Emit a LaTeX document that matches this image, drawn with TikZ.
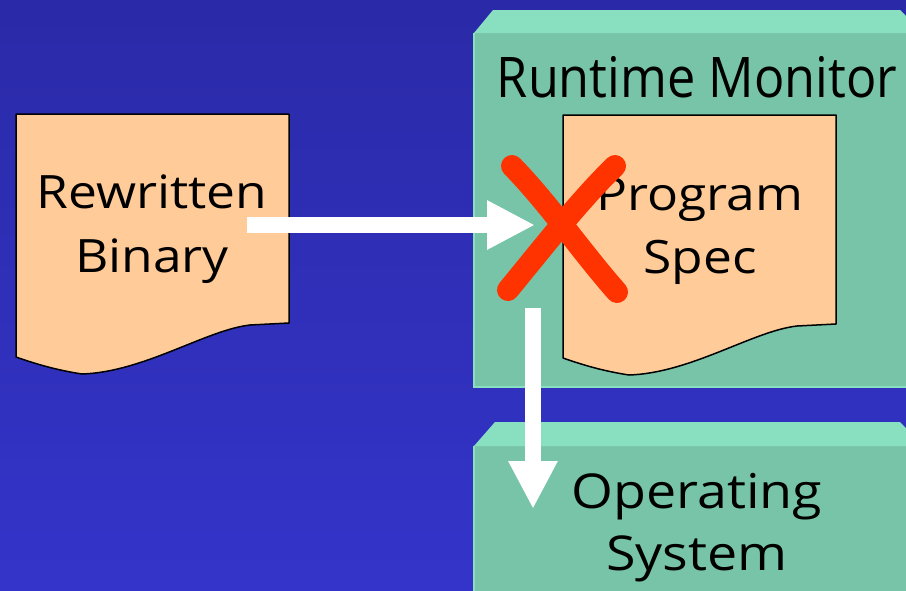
\documentclass[tikz,border=0pt]{standalone}
\usepackage{fontspec}
\setmainfont{Open Sans}[FakeStretch=1.12]
\newfontfamily\titlefont{Open Sans}[FakeStretch=0.9]
\usetikzlibrary{arrows.meta}
\definecolor{bgtop}{HTML}{2A2AA8}
\definecolor{bgbot}{HTML}{3434CA}
\definecolor{paper}{HTML}{FFCC99}
\definecolor{tealfront}{HTML}{78C4A9}
\definecolor{tealtop}{HTML}{88E0C0}
\definecolor{crossred}{HTML}{FF3300}
\tikzset{
  docshape/.style={fill=paper, draw=black, line width=1.5pt, line join=round},
  boxfront/.style={fill=tealfront},
  boxtop/.style={fill=tealtop},
  boxrim/.style={draw=tealtop, line width=1.5pt},
  label/.style={inner sep=0pt, align=center, anchor=base, text=black},
  flow/.style={draw=white, line width=16pt,
    -{Triangle[length=48pt, width=46pt, fill=white]}, shorten >=0pt},
  crossline/.style={draw=crossred, line width=22pt, line cap=round},
}
% a document sheet with a wavy lower edge, top-left corner at #1
\newcommand{\docsheet}[1]{%
  \begin{scope}[shift={#1}]
    \path[docshape] (0,0) -- (273,0) -- (273,209) -- (234,211)
      .. controls (190,216) and (128,258) .. (66,260)
      .. controls (40,256) and (20,250) .. (0,243) -- cycle;
  \end{scope}}
\begin{document}
\begin{tikzpicture}[x=1pt, y=-1pt]
  \useasboundingbox (0,0) rectangle (906,590);
  \clip (0,0) rectangle (906,590);
  \shade[top color=bgtop, bottom color=bgbot] (0,0) rectangle (906,590);

  % runtime monitor block
  \fill[boxfront] (474,33) rectangle (930,387);
  \fill[boxtop] (474,33) -- (493,10) -- (900,10) -- (923,33) -- cycle;
  \draw[boxrim] (474,33) -- (474,387) -- (930,387);

  % operating system block
  \fill[boxfront] (474,446) rectangle (930,600);
  \fill[boxtop] (474,446) -- (495,422) -- (900,422) -- (923,446) -- cycle;
  \draw[boxrim] (474,446) -- (474,600);

  % document sheets
  \docsheet{(16,114)}
  \docsheet{(563,115)}

  % labels (base anchor sits on the last line)
  \node[label, font=\fontsize{46}{64}\selectfont] (rb) at (152,272) {Rewritten\\Binary};
  \node[label, font=\fontsize{46}{63}\selectfont] (ps) at (700,273) {Program\\Spec};
  \node[label, font=\titlefont\fontsize{56}{64}\selectfont] (rm) at (697,97) {Runtime Monitor};
  \node[label, font=\fontsize{48}{62}\selectfont] (os) at (697,570) {Operating\\System};

  % flow arrows
  \coordinate (inS) at (247,225);
  \coordinate (inE) at (535,225);
  \coordinate (outS) at (533,308);
  \coordinate (outE) at (533,509);
  \draw[flow] (inS) -- (inE);
  \draw[flow] (outS) -- (outE);

  % blocked marker
  \coordinate (x1) at (512,166);
  \coordinate (x2) at (617,292);
  \coordinate (x3) at (615,166);
  \coordinate (x4) at (508,290);
  \draw[crossline] (x1) .. controls (550,205) and (580,250) .. (x2);
  \draw[crossline] (x3) .. controls (580,200) and (545,245) .. (x4);
\end{tikzpicture}
\end{document}
